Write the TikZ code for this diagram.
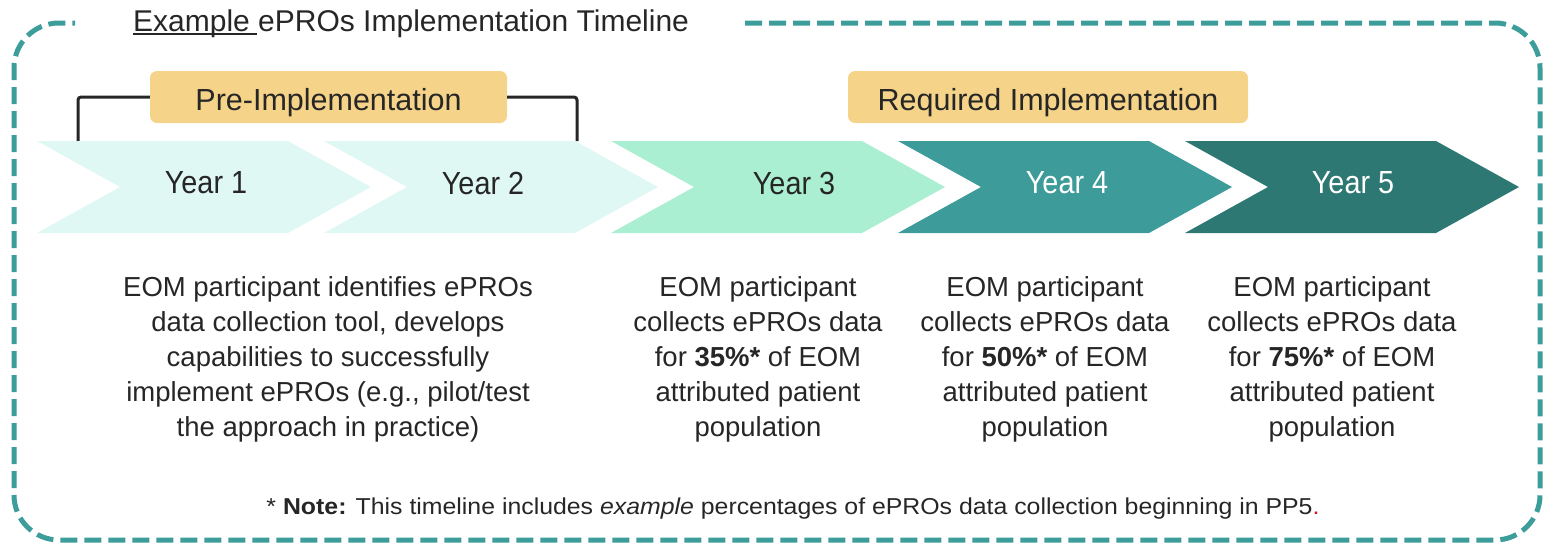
\documentclass[tikz,border=0pt]{standalone}
\usepackage{fontspec}
\setmainfont{Liberation Sans}
\newfontfamily\condfont[FakeStretch=0.9]{Liberation Sans}
\newfontfamily\widefont[FakeStretch=1.08]{Liberation Sans}
\definecolor{frameteal}{HTML}{3C9D9A}
\definecolor{mintA}{HTML}{E0F8F4}
\definecolor{mintB}{HTML}{ABEFD2}
\definecolor{tealC}{HTML}{3D9B99}
\definecolor{tealD}{HTML}{2D7873}
\definecolor{goldbox}{HTML}{F5D489}
\definecolor{txt}{HTML}{262626}
\definecolor{notered}{HTML}{E01010}
\tikzset{
  phasebox/.style={fill=goldbox, rounded corners=7pt, inner sep=0pt, text=txt,
    text height=26pt, text depth=0pt,
    font=\fontsize{30.5}{36}\selectfont},
  yearlabel/.style={inner sep=0pt, font=\condfont\fontsize{32}{36}\selectfont},
  bodytext/.style={inner sep=0pt, align=center, text=txt, anchor=north,
    font=\fontsize{27.5}{35}\selectfont},
  bracketline/.style={line width=3pt, draw=txt, rounded corners=3pt},
}
\newcommand\chevshape[2]{\fill[#2] (#1,141) -- ++(251,0) -- ++(83,46) -- ++(-83,46) -- ++(-251,0) -- ++(83,-46) -- cycle;}
\begin{document}
\begin{tikzpicture}[x=1pt,y=-1pt]
\useasboundingbox (0,0) rectangle (1545,544);
% dashed frame
\draw[frameteal, line width=5pt, dash pattern=on 17pt off 7pt, rounded corners=45pt]
  (745,23) -- (1540,23) -- (1540,540) -- (14,540) -- (14,23) -- (75,23);
% title
\node[anchor=base west, inner sep=0pt, text=txt, font=\fontsize{30}{36}\selectfont] (title) at (133,31)
  {\rlap{\rule[-4pt]{124pt}{2pt}}Example ePROs Implementation Timeline};
% phase boxes
\node[phasebox, minimum width=357pt, minimum height=52pt] (pre) at (328.5,97) {Pre-Implementation};
\node[phasebox, minimum width=400pt, minimum height=52pt] (req) at (1048,97) {Required Implementation};
% bracket
\coordinate (bl) at (78,141);
\coordinate (br) at (577,141);
\draw[bracketline] (pre.west) -| (bl);
\draw[bracketline] (pre.east) -| (br);
% chevrons
\chevshape{37}{mintA}
\chevshape{324}{mintA}
\chevshape{611}{mintB}
\chevshape{898}{tealC}
\chevshape{1185}{tealD}
\node[yearlabel, text=txt] (y1) at (206,183) {Year 1};
\node[yearlabel, text=txt] (y2) at (483,183) {Year 2};
\node[yearlabel, text=txt] (y3) at (794,183) {Year 3};
\node[yearlabel, text=white] (y4) at (1067,183) {Year 4};
\node[yearlabel, text=white] (y5) at (1353,183) {Year 5};
% body texts
\node[bodytext] (t12) at (328,276) {EOM participant identifies ePROs\\data collection tool, develops\\capabilities to successfully\\implement ePROs (e.g., pilot/test\\the approach in practice)};
\node[bodytext] (t3) at (758,276) {EOM participant\\collects ePROs data\\for \textbf{35\%*} of EOM\\attributed patient\\population};
\node[bodytext] (t4) at (1045,276) {EOM participant\\collects ePROs data\\for \textbf{50\%*} of EOM\\attributed patient\\population};
\node[bodytext] (t5) at (1332,276) {EOM participant\\collects ePROs data\\for \textbf{75\%*} of EOM\\attributed patient\\population};
% note
\node[anchor=base, inner sep=0pt, text=txt, font=\widefont\fontsize{23}{27}\selectfont] (note) at (793,514)
  {* \textbf{Note:} This timeline includes \textit{example} percentages of ePROs data collection beginning in PP5\textcolor{notered}{.}};
\end{tikzpicture}
\end{document}
